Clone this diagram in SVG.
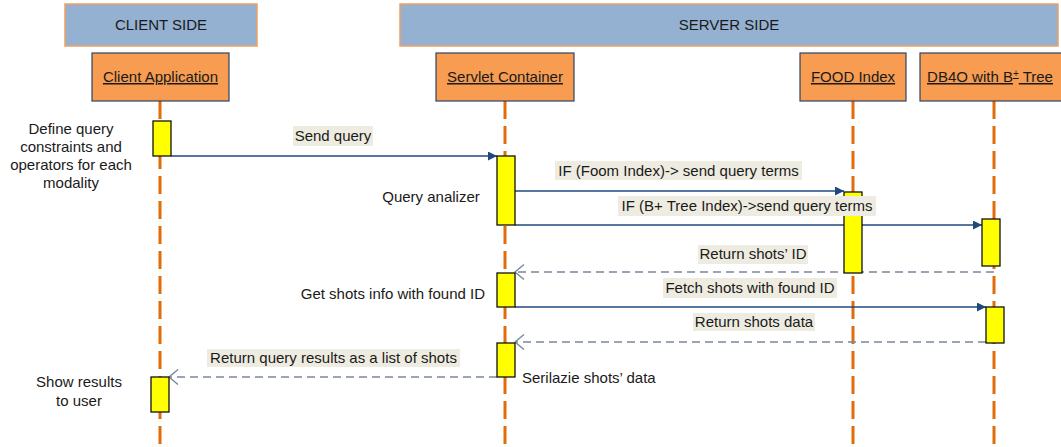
<svg xmlns="http://www.w3.org/2000/svg" width="1061" height="447" viewBox="0 0 1061 447">
  <style>
    text { font-family: "Liberation Sans", Arial, sans-serif; font-size: 15px; fill: #1a1a1a; }
    .zone { fill: #95B1D1; stroke: #F0A060; stroke-width: 1.5; }
    .actor { fill: #F79C50; stroke: #2F4463; stroke-width: 1.2; }
    .actor-name { text-decoration: underline; text-anchor: middle; }
    .lifeline { stroke: #E36C0A; stroke-width: 3; stroke-dasharray: 18 7; fill: none; }
    .act { fill: #FFFF00; stroke: #111; stroke-width: 1.3; }
    .call { stroke: #1F497D; stroke-width: 1.4; fill: none; marker-end: url(#solidHead); }
    .reply { stroke: #7A879E; stroke-width: 1.5; stroke-dasharray: 8 5; fill: none; marker-end: url(#openHead); }
    .tag { fill: #EEECE1; }
    .mid { text-anchor: middle; }
    .end { text-anchor: end; }
  </style>
  <defs>
    <marker id="solidHead" markerUnits="userSpaceOnUse" markerWidth="10" markerHeight="10" refX="9" refY="4.5" orient="auto">
      <path d="M0,0 L9,4.5 L0,9 z" fill="#1F497D"/>
    </marker>
    <marker id="openHead" markerUnits="userSpaceOnUse" markerWidth="12" markerHeight="18" refX="10" refY="8" orient="auto">
      <path d="M1,0.5 L10,8 L1,15.5" fill="none" stroke="#7A879E" stroke-width="1.4"/>
    </marker>
  </defs>

  <!-- side headers -->
  <g id="client-side">
    <rect class="zone" x="65" y="4" width="192" height="42"/>
    <text class="mid" x="161" y="30">CLIENT SIDE</text>
  </g>
  <g id="server-side">
    <rect class="zone" x="400" y="4" width="658" height="42"/>
    <text class="mid" x="729" y="30">SERVER SIDE</text>
  </g>

  <!-- participants with lifelines -->
  <g id="client-application">
    <line class="lifeline" x1="160" y1="101" x2="160" y2="447"/>
    <rect class="actor" x="92" y="53" width="137" height="48"/>
    <text class="actor-name" x="160.5" y="82">Client Application</text>
  </g>
  <g id="servlet-container">
    <line class="lifeline" x1="505" y1="101" x2="505" y2="447"/>
    <rect class="actor" x="436" y="53" width="138" height="48"/>
    <text class="actor-name" x="505" y="82">Servlet Container</text>
  </g>
  <g id="food-index">
    <line class="lifeline" x1="853" y1="101" x2="853" y2="447"/>
    <rect class="actor" x="800" y="53" width="106" height="48"/>
    <text class="actor-name" x="853" y="82">FOOD Index</text>
  </g>
  <g id="db4o">
    <line class="lifeline" x1="994" y1="101" x2="994" y2="447"/>
    <rect class="actor" x="920" y="53" width="145" height="48" stroke="#111"/>
    <text class="actor-name" x="990" y="82">DB4O with B<tspan font-size="10" baseline-shift="super">+</tspan> Tree</text>
  </g>

  <!-- messages -->
  <g id="connectors">
    <line class="call" x1="171" y1="156" x2="497" y2="156"/>
    <line class="call" x1="515" y1="191" x2="844" y2="191"/>
    <line class="call" x1="515" y1="225" x2="982" y2="225"/>
    <line class="reply" x1="994" y1="272" x2="515" y2="272"/>
    <line class="call" x1="515" y1="307" x2="986" y2="307"/>
    <line class="reply" x1="986" y1="342" x2="515" y2="342"/>
    <line class="reply" x1="497" y1="377" x2="169" y2="377"/>
  </g>

  <!-- activation bars -->
  <g id="activations">
    <rect class="act" x="153" y="121" width="18" height="35"/>
    <rect class="act" x="497" y="156" width="18" height="69"/>
    <rect class="act" x="844" y="192" width="18" height="81"/>
    <rect class="act" x="982" y="219" width="18" height="47"/>
    <rect class="act" x="497" y="273" width="18" height="34"/>
    <rect class="act" x="986" y="307" width="18" height="36"/>
    <rect class="act" x="497" y="343" width="18" height="34"/>
    <rect class="act" x="151" y="377" width="18" height="35"/>
  </g>

  <!-- message labels -->
  <g id="message-labels">
    <rect class="tag" x="293" y="126" width="80" height="20"/>
    <text class="mid" x="333" y="141">Send query</text>
    <rect class="tag" x="555" y="161" width="247" height="19"/>
    <text class="mid" x="678.5" y="176">IF (Foom Index)-&gt; send query terms</text>
    <rect class="tag" x="618" y="196" width="258" height="20"/>
    <text class="mid" x="747" y="211">IF (B+ Tree Index)-&gt;send query terms</text>
    <rect class="tag" x="698" y="245" width="110" height="19"/>
    <text class="mid" x="753" y="259">Return shots’ ID</text>
    <rect class="tag" x="663" y="278" width="174" height="20"/>
    <text class="mid" x="750" y="293">Fetch shots with found ID</text>
    <rect class="tag" x="693" y="313" width="122" height="18"/>
    <text class="mid" x="754" y="327">Return shots data</text>
    <rect class="tag" x="207" y="349" width="253" height="18"/>
    <text class="mid" x="333.5" y="363">Return query results as a list of shots</text>
  </g>

  <!-- step notes -->
  <g id="notes">
    <text class="mid" x="71" y="134">Define query</text>
    <text class="mid" x="71" y="152">constraints and</text>
    <text class="mid" x="71" y="170">operators for each</text>
    <text class="mid" x="71" y="188">modality</text>
    <text class="mid" x="431" y="202">Query analizer</text>
    <text class="end" x="485" y="299">Get shots info with found ID</text>
    <text x="522" y="383">Serilazie shots’ data</text>
    <text class="mid" x="79" y="387">Show results</text>
    <text class="mid" x="79" y="406">to user</text>
  </g>
</svg>
